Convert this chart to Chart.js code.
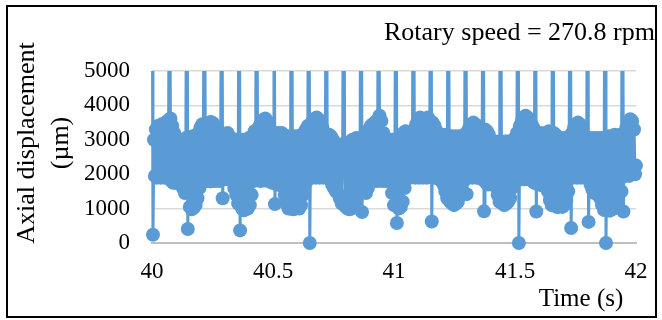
<!DOCTYPE html>
<html lang="en">
<head>
  <meta charset="UTF-8" />
  <title>Axial displacement</title>
  <script src="https://cdn.jsdelivr.net/npm/chart.js"></script>
  <style>
    body {
      margin: 0;
      padding: 0;
      background: #ffffff;
      overflow: hidden;
    }
    canvas {
      display: block;
    }
  </style>
</head>
<body>

<canvas id="dispChart" width="662" height="320"></canvas>

<script>
  // sampling: one reading every 4 ms starting at t = 40 s
  const timeStart = 40;
  const sampleStep = 0.004;

  // axial displacement (µm), one row per 18 samples; each row opens on a spike
  const displacement = [
    11200, 240, 3000, 1950, 3300, 1900, 3400, 2000, 3350, 1900, 3450, 1950, 3400, 1900, 3500, 2000, 3550, 1950,
    10800, 3620, 1800, 3400, 1750, 3200, 1760, 2900, 1740, 2800, 1750, 2750, 1800, 2800, 1600, 3000, 1450, 3050,
    11500, 406, 3000, 1050, 3050, 980, 3100, 1020, 3050, 1100, 3100, 1300, 3200, 1600, 3350, 1800, 3450, 1850,
    10900, 3300, 1800, 3450, 1850, 3500, 1790, 3520, 1800, 3480, 1850, 3400, 1800, 3200, 1850, 3150, 1800, 3200,
    11300, 1300, 3100, 1850, 3150, 1900, 3200, 1850, 3100, 1900, 3050, 1800, 3000, 1600, 2950, 1400, 3000, 1150,
    11000, 367, 2950, 1000, 3000, 950, 2950, 1050, 3000, 1000, 3050, 1100, 3000, 1400, 3100, 1800, 3250, 1850,
    11600, 3300, 1850, 3400, 1800, 3500, 1850, 3580, 1820, 3620, 1850, 3550, 1800, 3350, 1850, 3200, 1750, 3150,
    10700, 1131, 3150, 1700, 3200, 1700, 3150, 1750, 3200, 1650, 3100, 1400, 3050, 1150, 3100, 1000, 3050, 1000,
    11400, 3050, 980, 3100, 1000, 3050, 1050, 3100, 1000, 3100, 1100, 3150, 1400, 3200, 1700, 3300, 1800, 3400,
    11100, 0, 3450, 1900, 3550, 1950, 3600, 1900, 3650, 1950, 3600, 1900, 3500, 1950, 3350, 1900, 3200, 1950,
    10900, 3100, 1900, 3150, 1850, 3100, 1700, 3000, 1600, 2900, 1500, 2850, 1450, 2850, 1300, 2800, 1150, 2850,
    11500, 2900, 1050, 2850, 1000, 2900, 980, 2950, 1000, 3000, 1050, 3000, 1200, 3050, 1450, 3000, 1500, 3050,
    11200, 900, 3050, 1500, 3100, 1450, 3200, 1600, 3300, 1800, 3400, 1850, 3450, 1800, 3500, 1850, 3550, 1800,
    10800, 3700, 1850, 3550, 1800, 3200, 1850, 2950, 1800, 2900, 1850, 2950, 1800, 3000, 1450, 3000, 1100, 2950,
    11300, 580, 3050, 1000, 3100, 1050, 3150, 1200, 3200, 1600, 3250, 1900, 3200, 1950, 3100, 1900, 3150, 1950,
    11000, 3300, 1900, 3450, 1950, 3550, 1900, 3650, 1950, 3600, 1900, 3550, 1950, 3600, 1900, 3650, 1950, 3550,
    11700, 627, 3500, 1900, 3400, 1950, 3250, 1900, 3150, 1850, 3100, 1800, 3150, 1700, 3100, 1500, 3150, 1300,
    10900, 3050, 1200, 3100, 1150, 3050, 1100, 3100, 1150, 3050, 1200, 3100, 1400, 3050, 1600, 3100, 1800, 3150,
    11200, 1420, 3250, 1900, 3350, 1950, 3450, 1900, 3500, 1950, 3450, 1900, 3350, 1950, 3300, 1900, 3250, 1850,
    11400, 920, 3300, 1750, 3250, 1700, 3150, 1750, 3000, 1700, 2950, 1750, 2950, 1650, 2900, 1400, 2950, 1200,
    10800, 2950, 1150, 2900, 1100, 2950, 1150, 2950, 1200, 2900, 1300, 2950, 1600, 3000, 1800, 3050, 1850, 3200,
    11600, 0, 3400, 1850, 3550, 1900, 3650, 1850, 3700, 1900, 3650, 1850, 3550, 1900, 3450, 1800, 3350, 1750,
    11100, 917, 3200, 1700, 3150, 1750, 3200, 1700, 3150, 1650, 3100, 1700, 3200, 1500, 3250, 1250, 3200, 1100,
    11300, 3200, 1100, 3150, 1050, 3050, 1050, 3000, 1100, 3000, 1050, 3050, 1100, 3000, 1250, 3050, 1500, 3100,
    10900, 435, 3200, 1900, 3350, 1950, 3450, 1900, 3500, 1950, 3450, 1900, 3300, 1950, 3150, 1900, 3050, 1950,
    11500, 614, 3050, 1700, 3000, 1550, 3050, 1450, 3000, 1450, 3050, 1400, 3000, 1300, 3050, 1100, 3050, 960,
    11000, 0, 3050, 950, 3100, 940, 3050, 980, 3100, 1000, 3150, 1100, 3100, 1300, 3100, 1450, 3150, 1500,
    11200, 917, 3200, 1950, 3350, 2000, 3500, 1950, 3600, 2000, 3550, 2050, 3300, 2000, 2250
  ];

  const xTicks = [40, 40.5, 41, 41.5, 42];
  const yTicks = [0, 1000, 2000, 3000, 4000, 5000];

  const speedLabel = 'Rotary speed = 270.8 rpm';
  const xTitle = 'Time (s)';
  const yTitle = ['Axial displacement', '(µm)'];

  const blue = '#5b9bd5';
  const serif = '"Liberation Serif", "Times New Roman", serif';

  const points = displacement.map((v, i) => ({ x: timeStart + i * sampleStep, y: v }));

  // frame, speed note and axis titles
  const captions = {
    id: 'captions',
    afterDraw(chart) {
      const ctx = chart.ctx;
      ctx.save();
      ctx.strokeStyle = '#000';
      ctx.lineWidth = 2;
      ctx.strokeRect(7, 6, 649, 311);

      ctx.fillStyle = '#000';
      ctx.font = '26px ' + serif;
      ctx.textAlign = 'right';
      ctx.textBaseline = 'alphabetic';
      ctx.fillText(speedLabel, 655, 40);

      ctx.font = '25px ' + serif;
      ctx.textAlign = 'center';
      ctx.fillText(xTitle, 581, 306);

      ctx.font = '26px ' + serif;
      ctx.textBaseline = 'middle';
      ctx.translate(27, 143);
      ctx.rotate(-Math.PI / 2);
      ctx.fillText(yTitle[0], 0, 0);
      ctx.fillText(yTitle[1], 0, 34);
      ctx.restore();
    }
  };

  const ctx = document.getElementById('dispChart').getContext('2d');
  const chart = new Chart(ctx, {
    type: 'line',
    data: {
      datasets: [{
        data: points,
        borderColor: blue,
        backgroundColor: blue,
        pointBackgroundColor: blue,
        pointBorderColor: blue,
        pointBorderWidth: 0,
        pointRadius: 7,
        borderWidth: 3,
        tension: 0,
        clip: { left: 10, top: 0, right: 10, bottom: 10 }
      }]
    },
    options: {
      responsive: false,
      animation: false,
      events: [],
      layout: { padding: { left: 0, top: 71, right: 26, bottom: 0 } },
      plugins: {
        legend: { display: false },
        tooltip: { enabled: false }
      },
      scales: {
        x: {
          type: 'linear',
          min: 40,
          max: 42,
          afterBuildTicks: s => { s.ticks = xTicks.map(v => ({ value: v })); },
          afterFit: s => { s.height = 77; },
          grid: { display: false },
          border: { display: true, color: '#bfbfbf', width: 2 },
          ticks: {
            padding: 7,
            color: '#000',
            maxRotation: 0,
            autoSkip: false,
            font: { family: serif, size: 23 },
            callback: v => String(v)
          }
        },
        y: {
          min: 0,
          max: 5000,
          afterBuildTicks: s => { s.ticks = yTicks.map(v => ({ value: v })); },
          afterFit: s => { s.width = 152; },
          grid: { color: '#d9d9d9', lineWidth: 1.5, drawTicks: false },
          border: { display: false },
          ticks: {
            padding: 22,
            color: '#000',
            font: { family: serif, size: 23 },
            callback: v => String(v)
          }
        }
      }
    },
    plugins: [captions]
  });
</script>

</body>
</html>
